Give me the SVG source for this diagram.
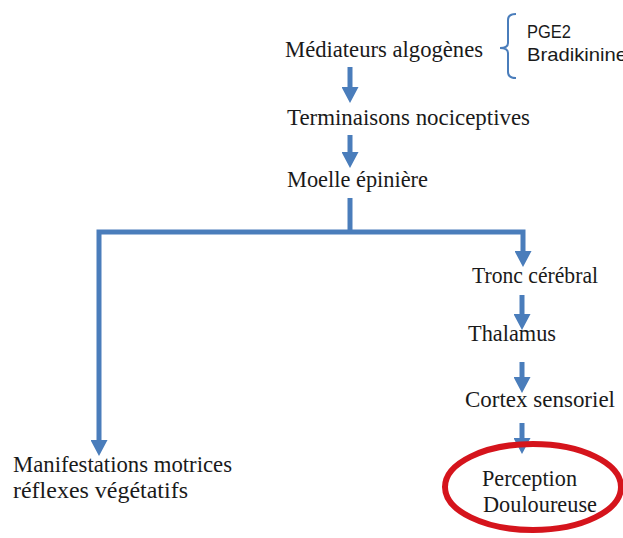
<svg xmlns="http://www.w3.org/2000/svg" width="623" height="538" viewBox="0 0 623 538">
<style>
.t{font-family:"Liberation Serif","Times New Roman",serif;font-size:23px;fill:#1a1a1a}
.s{font-family:"Liberation Sans",Arial,sans-serif;font-size:18.5px;fill:#1a1a1a}
.c{fill:none;stroke:#4a7dbb;stroke-width:5;stroke-linejoin:miter}
.br{fill:none;stroke:#4a7dbb;stroke-width:2}
</style>
<defs>
<marker id="ah" markerUnits="userSpaceOnUse" viewBox="0 0 16 17" refX="0" refY="8.5" markerWidth="16" markerHeight="17" orient="auto">
<path d="M0,0 L16,8.5 L0,17 z" fill="#4a7dbb"/>
</marker>
</defs>
<rect width="623" height="538" fill="#ffffff"/>
<g id="connectors">
<path class="c" d="M350,67 V87" marker-end="url(#ah)"/>
<path class="c" d="M350,135 V152" marker-end="url(#ah)"/>
<path class="c" d="M350,198 V232"/>
<path class="c" d="M350,232 H99 V440" marker-end="url(#ah)"/>
<path class="c" d="M350,232 H523 V251" marker-end="url(#ah)"/>
<path class="c" d="M522,295 V314" marker-end="url(#ah)"/>
<path class="c" d="M522,362 V377" marker-end="url(#ah)"/>
<path class="c" d="M522,423 V438" marker-end="url(#ah)"/>
</g>
<g id="mediateurs">
<text class="t" x="285" y="57" textLength="198" lengthAdjust="spacingAndGlyphs">Médiateurs algogènes</text>
</g>
<g id="bracket">
<path class="br" d="M516,14 Q508,14 508,20 V43 Q508,48 500,48 Q508,48 508,53 V72 Q508,78 516,78"/>
<text class="s" x="527" y="38" textLength="44" lengthAdjust="spacingAndGlyphs">PGE2</text>
<text class="s" x="527" y="61" textLength="100" lengthAdjust="spacingAndGlyphs">Bradikinine</text>
</g>
<g id="terminaisons">
<text class="t" x="287" y="125" textLength="243" lengthAdjust="spacingAndGlyphs">Terminaisons nociceptives</text>
</g>
<g id="moelle">
<text class="t" x="287" y="187" textLength="141" lengthAdjust="spacingAndGlyphs">Moelle épinière</text>
</g>
<g id="tronc">
<text class="t" x="472" y="283" textLength="126" lengthAdjust="spacingAndGlyphs">Tronc cérébral</text>
</g>
<g id="thalamus">
<text class="t" x="468" y="341" textLength="88" lengthAdjust="spacingAndGlyphs">Thalamus</text>
</g>
<g id="cortex">
<text class="t" x="465" y="407" textLength="150" lengthAdjust="spacingAndGlyphs">Cortex sensoriel</text>
</g>
<g id="perception">
<ellipse cx="533" cy="487" rx="88" ry="43" fill="none" stroke="#d5141c" stroke-width="6"/>
<text class="t" x="482" y="486" textLength="95" lengthAdjust="spacingAndGlyphs">Perception</text>
<text class="t" x="483" y="512" textLength="114" lengthAdjust="spacingAndGlyphs">Douloureuse</text>
</g>
<g id="manifestations">
<text class="t" x="13" y="472" textLength="219" lengthAdjust="spacingAndGlyphs">Manifestations motrices</text>
<text class="t" x="13" y="498" textLength="175" lengthAdjust="spacingAndGlyphs">réflexes végétatifs</text>
</g>
</svg>
